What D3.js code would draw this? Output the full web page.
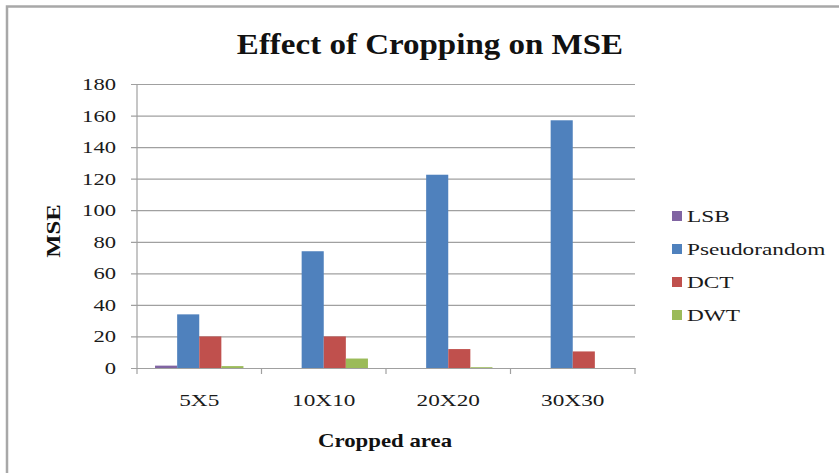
<!DOCTYPE html>
<html>
<head>
<meta charset="utf-8">
<script src="https://cdn.jsdelivr.net/npm/d3@7"></script>
<style>
  html, body { margin: 0; padding: 0; background: #fff; }
  svg { display: block; }
</style>
</head>
<body>
<svg id="chart" width="839" height="473"></svg>
<script>
// Cropped-area categories and MSE per watermarking method
const categories = ["5X5", "10X10", "20X20", "30X30"];
const seriesNames = ["LSB", "Pseudorandom", "DCT", "DWT"];
const lsb = [1.5, 0, 0, 0];
const pseudorandom = [34, 74, 122.5, 157];
const dct = [20, 20, 12, 10.5];
const dwt = [1.2, 6, 0.5, 0];
const yTicks = [0, 20, 40, 60, 80, 100, 120, 140, 160, 180];
const seriesColors = ["#8064A2", "#4F81BD", "#C0504D", "#9BBB59"];

const seriesValues = [lsb, pseudorandom, dct, dwt];
const SERIF = "'Liberation Serif', 'Times New Roman', serif";

const svg = d3.select("#chart");
const W = 839, H = 473;
const plot = { left: 137, right: 635, top: 84, bottom: 368 };

// widen glyphs horizontally by factor k (Word-style stretched text)
function stretch(sel, k) {
  sel.each(function () {
    const len = this.getComputedTextLength();
    d3.select(this).attr("textLength", len * k).attr("lengthAdjust", "spacingAndGlyphs");
  });
}

// outer frame (only the top and left edges fall inside the page)
svg.append("rect").attr("x", 0).attr("y", 0).attr("width", W).attr("height", H).attr("fill", "#fff");
svg.append("path")
  .attr("d", `M7,${H} V6.5 H${W}`)
  .attr("fill", "none").attr("stroke", "#a8a8a8").attr("stroke-width", 2.5);

const x0 = d3.scaleBand().domain(categories).range([plot.left, plot.right]).padding(0);
const gap = x0.bandwidth() * 0.29;
const x1 = d3.scaleBand().domain(seriesNames).range([gap / 2, x0.bandwidth() - gap / 2]).padding(0);
const y = d3.scaleLinear().domain([0, 180]).range([plot.bottom, plot.top]);
const color = d3.scaleOrdinal().domain(seriesNames).range(seriesColors);

// horizontal gridlines with outward ticks on the value axis
const yAxis = d3.axisLeft(y).tickValues(yTicks).tickSize(-(plot.right - plot.left)).tickFormat(d3.format("d")).tickPadding(21);
const gy = svg.append("g").attr("transform", `translate(${plot.left},0)`).call(yAxis);
gy.select(".domain").remove();
gy.selectAll(".tick line").attr("stroke", "#a0a0a0").attr("stroke-width", 1.2).attr("x1", -6);
gy.selectAll(".tick text")
  .style("font-family", SERIF).style("font-size", "17px").attr("fill", "#1a1a1a")
  .call(stretch, 1.33);

// value axis line
svg.append("line").attr("x1", plot.left).attr("x2", plot.left)
  .attr("y1", plot.top).attr("y2", plot.bottom).attr("stroke", "#a0a0a0").attr("stroke-width", 1.2);

// bars
const rows = categories.map((c, i) => ({ cat: c, vals: seriesNames.map((s, j) => ({ s, v: seriesValues[j][i] })) }));
const groups = svg.append("g").selectAll("g").data(rows).join("g")
  .attr("transform", d => `translate(${x0(d.cat)},0)`);
groups.selectAll("rect").data(d => d.vals).join("rect")
  .attr("x", d => x1(d.s))
  .attr("width", x1.bandwidth())
  .attr("y", d => y(d.v))
  .attr("height", d => y(0) - y(d.v))
  .attr("fill", d => color(d.s));

// category axis
const xAxis = d3.axisBottom(x0).tickSize(0).tickPadding(38);
const gx = svg.append("g").attr("transform", `translate(0,${plot.bottom})`).call(xAxis);
gx.select(".domain").attr("stroke", "#a0a0a0").attr("stroke-width", 1.2);
gx.selectAll(".tick text")
  .attr("dy", 0)
  .style("font-family", SERIF).style("font-size", "17.5px").attr("fill", "#1a1a1a")
  .call(stretch, 1.33);
// boundary ticks between categories
const bounds = categories.map(c => x0(c)).concat([plot.right]);
gx.selectAll(".bound").data(bounds).join("line").attr("class", "bound")
  .attr("x1", d => d).attr("x2", d => d).attr("y1", 0).attr("y2", 6)
  .attr("stroke", "#a0a0a0").attr("stroke-width", 1.2);

// title
svg.append("text").attr("x", 430).attr("y", 54).attr("text-anchor", "middle")
  .style("font-family", SERIF).style("font-size", "30px").style("font-weight", "bold").attr("fill", "#111")
  .text("Effect of Cropping on MSE")
  .call(stretch, 1.1);

// axis titles
svg.append("text").attr("x", 385).attr("y", 447).attr("text-anchor", "middle")
  .style("font-family", SERIF).style("font-size", "19px").style("font-weight", "bold").attr("fill", "#111")
  .text("Cropped area")
  .call(stretch, 1.2);
svg.append("text").attr("transform", "translate(60,231) rotate(-90)").attr("text-anchor", "middle")
  .style("font-family", SERIF).style("font-size", "19px").style("font-weight", "bold").attr("fill", "#111")
  .text("MSE")
  .call(stretch, 1.3);

// legend
const legend = svg.append("g").selectAll("g").data(seriesNames).join("g")
  .attr("transform", (d, i) => `translate(672,${216 + i * 33})`);
legend.append("rect").attr("x", 0).attr("y", -5).attr("width", 10).attr("height", 10).attr("fill", d => color(d));
legend.append("text").attr("x", 15).attr("y", 0).attr("dy", "0.33em")
  .style("font-family", SERIF).style("font-size", "17.5px").attr("fill", "#1a1a1a")
  .text(d => d)
  .call(stretch, 1.33);
</script>
</body>
</html>
